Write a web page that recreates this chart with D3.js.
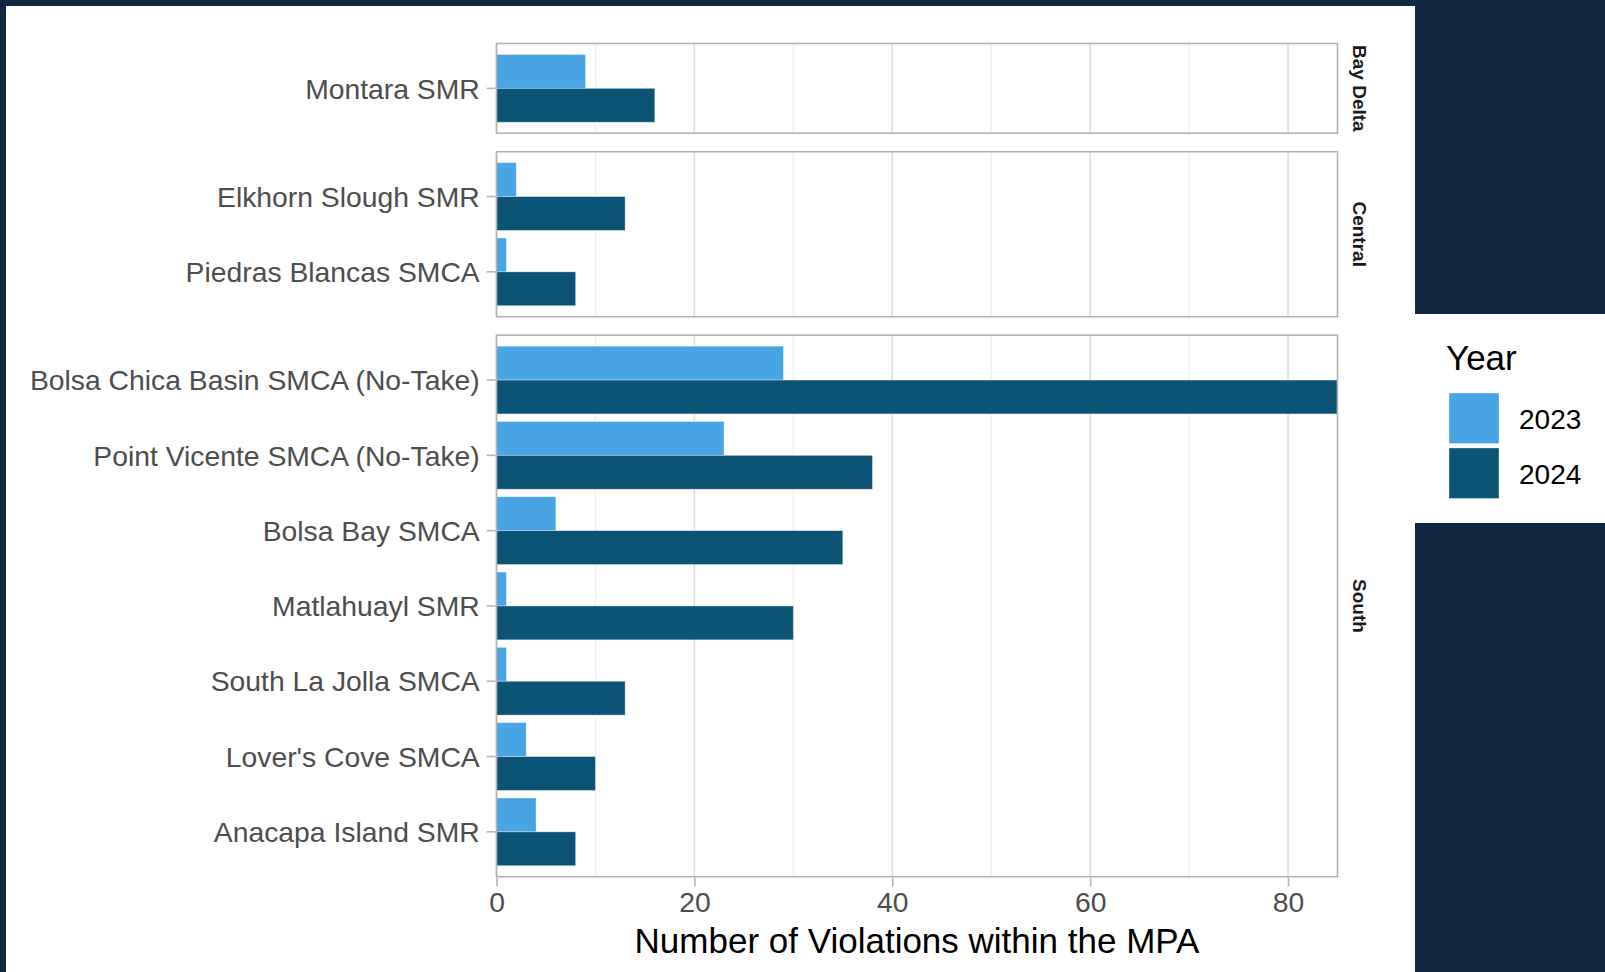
<!DOCTYPE html>
<html>
<head>
<meta charset="utf-8">
<script src="https://cdn.jsdelivr.net/npm/d3@7"></script>
<style>
  html, body { margin: 0; padding: 0; background: #0f2740; }
  svg { display: block; }
  text { font-family: "Liberation Sans", Arial, Helvetica, sans-serif; }
</style>
</head>
<body>
<svg id="chart" width="1605" height="972"></svg>
<script>
// ---- data ----
const regions = ["Bay Delta", "Central", "South"];
const sites = [
  "Montara SMR",
  "Elkhorn Slough SMR", "Piedras Blancas SMCA",
  "Bolsa Chica Basin SMCA (No-Take)", "Point Vicente SMCA (No-Take)", "Bolsa Bay SMCA",
  "Matlahuayl SMR", "South La Jolla SMCA", "Lover's Cove SMCA", "Anacapa Island SMR"
];
const siteRegion = [
  "Bay Delta",
  "Central", "Central",
  "South", "South", "South", "South", "South", "South", "South"
];
const years = ["2023", "2024"];
const values2023 = [9, 2, 1, 29, 23, 6, 1, 1, 3, 4];
const values2024 = [16, 13, 8, 85, 38, 35, 30, 13, 10, 8];
const xTicks = [0, 20, 40, 60, 80];
const xMinorTicks = [10, 30, 50, 70];
const xTitle = "Number of Violations within the MPA";
const legendTitle = "Year";
const yearColors = ["#48a4e3", "#0c5475"];

// ---- layout ----
const svg = d3.select("#chart");
const W = 1605, H = 972;
const panelLeft = 496.5, panelRight = 1337.5;
const firstTop = 43.5, gap = 18.5, unit = 75.3, pad = 7.2;

svg.append("rect").attr("x", 0).attr("y", 0).attr("width", W).attr("height", H).attr("fill", "#0f2740");
svg.append("rect").attr("x", 6).attr("y", 6).attr("width", 1409).attr("height", H - 6).attr("fill", "#ffffff");
svg.append("rect").attr("x", 1415).attr("y", 314).attr("width", W - 1415).attr("height", 209).attr("fill", "#ffffff");

const x = d3.scaleLinear().domain([0, 85]).range([panelLeft, panelRight]);
const colorScale = d3.scaleOrdinal().domain(years).range(yearColors);

const rows = sites.map((s, i) => ({ site: s, region: siteRegion[i], v: [values2023[i], values2024[i]] }));

let panelTop = firstTop;
let lastBottom = 0;
regions.forEach((reg, ri) => {
  const regSites = rows.filter(r => r.region === reg);
  const h = regSites.length * unit + 2 * pad;
  const g = svg.append("g").attr("transform", `translate(0,${panelTop})`);
  const y = d3.scaleBand().domain(regSites.map(d => d.site)).range([pad, h - pad]).paddingInner(0).paddingOuter(0);
  const ySub = d3.scaleBand().domain(years).range([0, y.bandwidth()]).paddingInner(0).paddingOuter(0.111);

  const clipId = "clip" + ri;
  g.append("clipPath").attr("id", clipId).append("rect")
    .attr("x", panelLeft).attr("y", 0).attr("width", panelRight - panelLeft).attr("height", h);

  // grid
  g.selectAll(".minor").data(xMinorTicks).join("line")
    .attr("x1", d => x(d)).attr("x2", d => x(d)).attr("y1", 0).attr("y2", h)
    .attr("stroke", "#ebebeb").attr("stroke-width", 1);
  g.selectAll(".major").data(xTicks).join("line")
    .attr("x1", d => x(d)).attr("x2", d => x(d)).attr("y1", 0).attr("y2", h)
    .attr("stroke", "#dedede").attr("stroke-width", 1.6);

  // bars
  const bars = g.append("g").attr("clip-path", `url(#${clipId})`);
  regSites.forEach(r => {
    years.forEach((yr, yi) => {
      bars.append("rect")
        .attr("x", x(0))
        .attr("y", y(r.site) + ySub(yr))
        .attr("width", x(r.v[yi]) - x(0))
        .attr("height", ySub.bandwidth())
        .attr("fill", colorScale(yr))
        .attr("stroke", "rgba(255,255,255,0.45)")
        .attr("stroke-width", 0.8);
    });
  });

  // border
  g.append("rect").attr("x", panelLeft).attr("y", 0).attr("width", panelRight - panelLeft).attr("height", h)
    .attr("fill", "none").attr("stroke", "#b3b3b3").attr("stroke-width", 1.6);

  // y axis
  const yAxis = d3.axisLeft(y).tickSize(9).tickPadding(7);
  const ya = g.append("g").attr("transform", `translate(${panelLeft - 0.8},0)`).call(yAxis);
  ya.select(".domain").remove();
  ya.selectAll(".tick line").attr("stroke", "#b3b3b3").attr("stroke-width", 1.6);
  ya.selectAll(".tick text").attr("fill", "#4d4d4d").style("font-size", "28.3px")
    .attr("dy", "0.36em");

  // strip
  g.append("text")
    .attr("transform", `translate(1353,${h / 2}) rotate(90)`)
    .attr("text-anchor", "middle")
    .style("font-size", "19px").style("font-weight", "bold").attr("fill", "#1a1a1a")
    .text(reg);

  lastBottom = panelTop + h;
  panelTop = panelTop + h + gap;
});

// x axis
const xAxis = d3.axisBottom(x).tickValues(xTicks).tickSize(9).tickPadding(5);
const xa = svg.append("g").attr("transform", `translate(0,${lastBottom + 0.8})`).call(xAxis);
xa.select(".domain").remove();
xa.selectAll(".tick line").attr("stroke", "#b3b3b3").attr("stroke-width", 1.6);
xa.selectAll(".tick text").attr("fill", "#4d4d4d").style("font-size", "28.3px");

svg.append("text")
  .attr("x", (panelLeft + panelRight) / 2).attr("y", 953)
  .attr("text-anchor", "middle").style("font-size", "35px").attr("fill", "#000")
  .text(xTitle);

// legend
const lg = svg.append("g");
lg.append("text").attr("x", 1446).attr("y", 370).style("font-size", "35px").attr("fill", "#000").text(legendTitle);
years.forEach((yr, i) => {
  const ky = 393 + i * 55;
  lg.append("rect").attr("x", 1449).attr("y", ky).attr("width", 50).attr("height", 50.5)
    .attr("fill", colorScale(yr)).attr("stroke", "rgba(255,255,255,0.45)").attr("stroke-width", 0.8);
  lg.append("text").attr("x", 1519).attr("y", ky + 25.5).attr("dy", "0.36em")
    .style("font-size", "28px").attr("fill", "#000").text(yr);
});
</script>
</body>
</html>
